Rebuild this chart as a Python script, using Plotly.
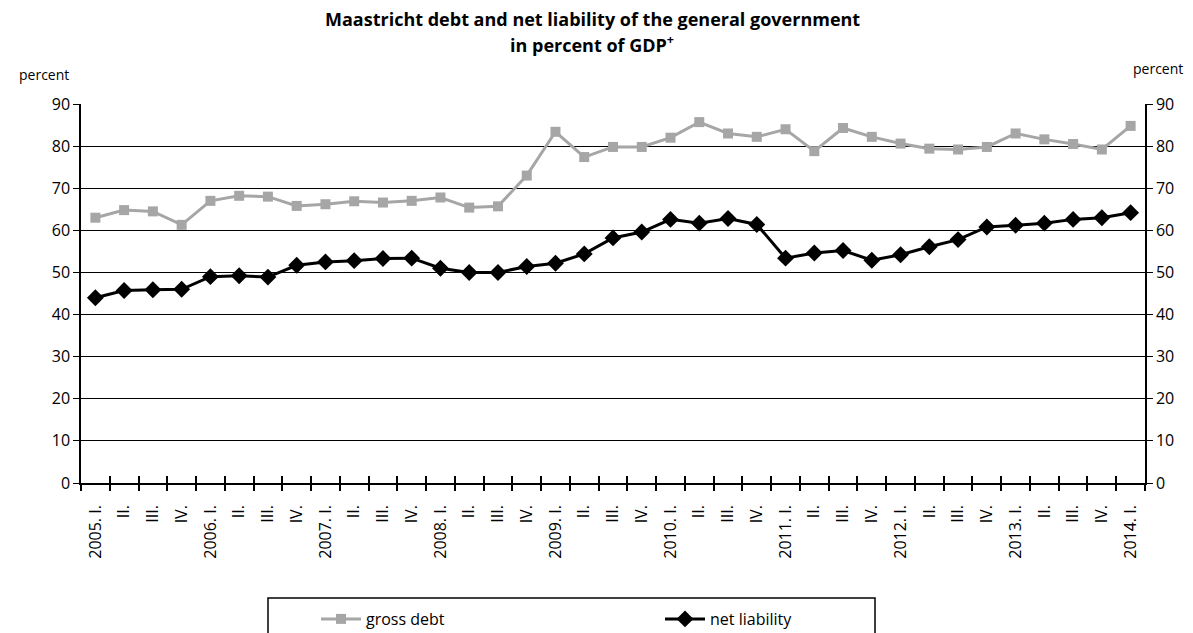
import plotly.graph_objects as go

# Quarterly observations, 2005 Q1 - 2014 Q1
quarters = [
    "2005. I.", "II.", "III.", "IV.",
    "2006. I.", "II.", "III.", "IV.",
    "2007. I.", "II.", "III.", "IV.",
    "2008. I.", "II.", "III.", "IV.",
    "2009. I.", "II.", "III.", "IV.",
    "2010. I.", "II.", "III.", "IV.",
    "2011. I.", "II.", "III.", "IV.",
    "2012. I.", "II.", "III.", "IV.",
    "2013. I.", "II.", "III.", "IV.",
    "2014. I.",
]

gross_debt = [
    63.0, 64.8, 64.5, 61.3,
    67.0, 68.2, 68.0, 65.8,
    66.2, 66.9, 66.6, 67.0,
    67.8, 65.4, 65.7, 73.0,
    83.4, 77.4, 79.8, 79.8,
    82.0, 85.7, 83.0, 82.2,
    84.0, 78.8, 84.3, 82.2,
    80.6, 79.4, 79.2, 79.8,
    83.0, 81.6, 80.5, 79.2,
    84.8,
]

net_liability = [
    44.0, 45.7, 45.9, 46.0,
    49.0, 49.2, 48.9, 51.7,
    52.5, 52.8, 53.3, 53.4,
    51.0, 50.0, 50.0, 51.4,
    52.2, 54.4, 58.2, 59.6,
    62.6, 61.7, 62.8, 61.4,
    53.4, 54.6, 55.2, 52.9,
    54.2, 56.1, 57.8, 60.8,
    61.2, 61.7, 62.6, 63.0,
    64.2,
]

y_ticks = list(range(0, 91, 10))

W, H = 1193, 633
L, R, T, B = 81, 48, 104, 150
pw, ph = W - L - R, H - T - B

def px_x(p):
    return (p - L) / pw

def px_y(p):
    return (H - B - p) / ph

idx = list(range(len(quarters)))
n = len(quarters)
font = "Open Sans, Liberation Sans, sans-serif"

fig = go.Figure()
fig.add_trace(go.Scatter(
    x=idx, y=gross_debt, name="gross debt", mode="lines+markers",
    line=dict(color="#A6A6A6", width=3),
    marker=dict(symbol="square", size=10, color="#A6A6A6"),
))
fig.add_trace(go.Scatter(
    x=idx, y=net_liability, name="net liability", mode="lines+markers",
    line=dict(color="#000000", width=3),
    marker=dict(symbol="diamond", size=13, color="#000000"),
))
# invisible carriers so the helper axes (right scale, crossing ticks) get drawn
for xa, ya in (("x2", "y2"), ("x3", "y")):
    fig.add_trace(go.Scatter(
        x=[0], y=[0], xaxis=xa, yaxis=ya, mode="markers",
        marker=dict(opacity=0), showlegend=False, hoverinfo="skip",
    ))

boundaries = [k - 0.5 for k in range(n + 1)]

fig.update_layout(
    width=W, height=H,
    margin=dict(l=L, r=R, t=T, b=B, autoexpand=False),
    paper_bgcolor="white", plot_bgcolor="white",
    font=dict(family=font, color="black"),
    xaxis=dict(
        range=[-0.5, n - 0.5], tickmode="array", tickvals=idx, ticktext=quarters,
        tickangle=-90, ticks="", showgrid=False, zeroline=False,
        showline=True, linecolor="black", linewidth=1.5,
        tickfont=dict(size=16), ticklabelstandoff=14,
    ),
    xaxis2=dict(
        range=[-0.5, n - 0.5], overlaying="x", anchor="y", side="bottom",
        tickmode="array", tickvals=boundaries,
        ticks="outside", ticklen=7, tickwidth=1.5, tickcolor="black",
        showticklabels=False, showgrid=False, zeroline=False, showline=False,
    ),
    xaxis3=dict(
        range=[-0.5, n - 0.5], overlaying="x", anchor="y", side="bottom",
        tickmode="array", tickvals=boundaries,
        ticks="inside", ticklen=7, tickwidth=1.5, tickcolor="black",
        showticklabels=False, showgrid=False, zeroline=False, showline=False,
    ),
    yaxis=dict(
        range=[0, 90], tickmode="array", tickvals=y_ticks,
        ticks="outside", ticklen=6, tickcolor="black",
        showgrid=True, gridcolor="black", gridwidth=1, zeroline=False,
        showline=True, linecolor="black", linewidth=1.5,
        tickfont=dict(size=16),
    ),
    yaxis2=dict(
        range=[0, 90], overlaying="y", anchor="x", side="right",
        tickmode="array", tickvals=y_ticks,
        ticks="outside", ticklen=6, tickcolor="black",
        showgrid=False, zeroline=False,
        showline=True, linecolor="black", linewidth=1.5,
        tickfont=dict(size=16),
    ),
    showlegend=True,
    legend=dict(
        orientation="h", x=px_x(316), xanchor="left",
        y=px_y(636), yanchor="bottom",
        entrywidth=289, entrywidthmode="pixels",
        font=dict(size=16), bgcolor="rgba(0,0,0,0)", borderwidth=0,
        itemwidth=40,
    ),
    shapes=[dict(
        type="rect", xref="paper", yref="paper",
        x0=px_x(268), x1=px_x(875), y0=px_y(645), y1=px_y(598),
        line=dict(color="black", width=1.5), fillcolor="rgba(0,0,0,0)",
    )],
    annotations=[
        dict(text="<b>Maastricht debt and net liability of the general government</b>",
             xref="paper", yref="paper", x=px_x(592), y=px_y(19),
             xanchor="center", yanchor="middle", showarrow=False,
             font=dict(size=18)),
        dict(text="<b>in percent of GDP<sup>+</sup></b>",
             xref="paper", yref="paper", x=px_x(592), y=px_y(44),
             xanchor="center", yanchor="middle", showarrow=False,
             font=dict(size=18)),
        dict(text="percent", xref="paper", yref="paper",
             x=px_x(44), y=px_y(75), xanchor="center", yanchor="middle",
             showarrow=False, font=dict(size=14)),
        dict(text="percent", xref="paper", yref="paper",
             x=px_x(1158), y=px_y(68), xanchor="center", yanchor="middle",
             showarrow=False, font=dict(size=14)),
    ],
)

fig.write_html("out.html")
